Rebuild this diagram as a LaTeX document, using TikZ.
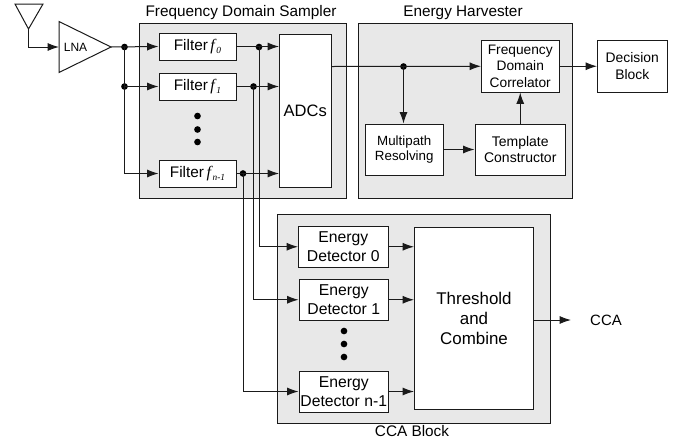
\documentclass[tikz,border=0pt]{standalone}
\usepackage{fontspec}
\setmainfont{Liberation Sans}
\newfontfamily\serifit[Scale=1]{Liberation Serif}
\usetikzlibrary{arrows.meta,calc}
\definecolor{panel}{HTML}{E8E8E8}
\definecolor{ink}{HTML}{1A1A1A}
\newcommand{\fsz}[1]{\pgfmathsetmacro\myleading{#1*1.19}\fontsize{#1}{\myleading}\selectfont}
\newcommand{\flt}[2]{Filter\,{\serifit\itshape\fontsize{12}{14}\selectfont #1\raisebox{-2.5pt}{\fontsize{7}{8}\selectfont\,#2}}}
\newcommand{\bx}[7]{% name,x1,y1,x2,y2,size,text
  \pgfmathsetmacro\mycx{(#2+#4)/2}\pgfmathsetmacro\mycy{(#3+#5)/2}
  \pgfmathsetmacro\mywd{(#4-#2)*0.75}\pgfmathsetmacro\myht{(#5-#3)*0.75}
  \node[blk,font=\fsz{#6},minimum width=\mywd pt,minimum height=\myht pt] (#1) at (\mycx,\mycy) {#7};}
\newcommand{\pn}[5]{%
  \pgfmathsetmacro\mycx{(#2+#4)/2}\pgfmathsetmacro\mycy{(#3+#5)/2}
  \pgfmathsetmacro\mywd{(#4-#2)*0.75}\pgfmathsetmacro\myht{(#5-#3)*0.75}
  \node[pnl,minimum width=\mywd pt,minimum height=\myht pt] (#1) at (\mycx,\mycy) {};}
\tikzset{
  x=0.75pt,y=-0.75pt,
  blk/.style={draw=ink,fill=white,line width=0.75pt,inner sep=0pt,align=center},
  pnl/.style={draw=ink,fill=panel,line width=0.75pt,inner sep=0pt},
  wire/.style={draw=ink,line width=0.75pt},
  arr/.style={wire,-{Latex[length=8.5pt,width=6pt]}},
  jn/.style={circle,fill=black,inner sep=0pt,minimum size=5pt},
  ttl/.style={font=\fsz{11.5},inner sep=0pt},
  tri/.style={draw=ink,line width=0.75pt,fill=white},
}
\begin{document}
\begin{tikzpicture}
\useasboundingbox (0,0) rectangle (675,440);
\pn{sampler}{139.5}{23}{346}{198}
\pn{harvester}{358.5}{23}{572.5}{198}
\pn{ccablock}{277.5}{214.5}{550}{423}
\node[ttl] (tsampler) at (241,13) {Frequency Domain Sampler};
\node[ttl] (tharvester) at (463,13) {Energy Harvester};
\node[ttl] (tcca) at (412,431) {CCA Block};

\coordinate (antc) at (28.5,29);
\coordinate (lnaW) at (59,47);
\coordinate (lnaE) at (111,47);
\draw[tri] (15,4) -- (43,4) -- (antc) -- cycle;
\draw[tri] (59,21.5) -- (59,72.5) -- (lnaE) -- cycle;
\node[inner sep=0pt,font=\fsz{9}] (lna) at (75.5,47.5) {LNA};

\bx{f0}{159}{33}{236}{60}{11.5}{\flt{f}{0}}
\bx{f1}{159}{73}{236}{100}{11.5}{\flt{f}{1}}
\bx{fn}{159}{160}{236}{187}{11.5}{\flt{f}{n-1}}
\bx{adc}{279.5}{34}{331}{187}{12.4}{ADCs}
\bx{corr}{481.5}{40.5}{559}{92}{10.3}{Frequency\\Domain\\Correlator}
\bx{multi}{365.5}{124}{443}{175}{10}{Multipath\\Resolving}
\bx{templ}{475}{124}{565.5}{175}{10.5}{Template\\Constructor}
\bx{dec}{597.5}{40.5}{667}{92}{10.4}{Decision\\Block}
\bx{d0}{298.5}{226.5}{388}{267}{11.8}{Energy\\Detector 0}
\bx{d1}{299}{279.5}{388.5}{320}{11.8}{Energy\\Detector 1}
\bx{dn}{299}{371}{388.5}{412}{11.8}{Energy\\Detector n-1}
\bx{thr}{414.5}{227}{533.5}{409.5}{12.7}{Threshold\\and\\Combine}
\node[inner sep=0pt,font=\fsz{11.2}] (cca) at (606,320) {CCA};
\coordinate (ccaend) at (571,320);

% dots
\foreach \n/\y in {a/116,b/129.5,c/142}{\node[jn] (fd\n) at (197.5,\y) {};}
\foreach \n/\y in {a/331,b/344,c/357}{\node[jn] (dd\n) at (344,\y) {};}

% junctions
\node[jn] (ja) at (124.5,47) {};
\node[jn] (jb) at (124.5,86.5) {};
\node[jn] (j0) at (259,47) {};
\node[jn] (j1) at (253.5,86.5) {};
\node[jn] (jn) at (243,173.5) {};
\node[jn] (jm) at (403.5,66.5) {};

% connectors
\draw[arr] (antc) |- (lnaW);
\draw[arr] (lnaE) -- (f0.west);
\draw[arr] (ja.center) -- (jb.center) -- (f1.west);
\draw[arr] (jb.center) |- (fn.west);
\draw[arr] (f0.east) -- (adc.west |- f0.east);
\draw[arr] (f1.east) -- (adc.west |- f1.east);
\draw[arr] (fn.east) -- (adc.west |- fn.east);
\draw[arr] (j0.center) |- (d0.west);
\draw[arr] (j1.center) |- (d1.west);
\draw[arr] (jn.center) |- (dn.west);
\draw[arr] (adc.east |- jm.center) -- (corr.west);
\draw[arr] (jm.center) -- (multi.north -| jm.center);
\draw[arr] (multi.east) -- (templ.west);
\draw[arr] (templ.north) -- (corr.south -| templ.north);
\draw[arr] (corr.east) -- (dec.west);
\draw[arr] (d0.east) -- (thr.west |- d0.east);
\draw[arr] (d1.east) -- (thr.west |- d1.east);
\draw[arr] (dn.east) -- (thr.west |- dn.east);
\draw[arr] (thr.east |- ccaend) -- (ccaend);
\end{tikzpicture}
\end{document}
